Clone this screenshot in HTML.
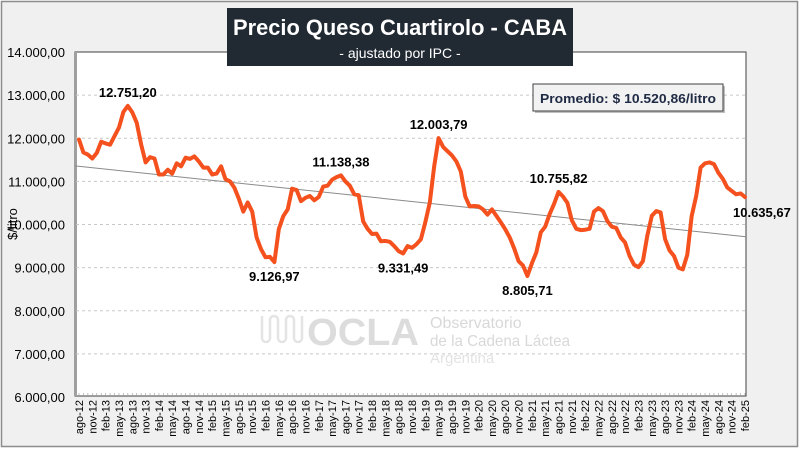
<!DOCTYPE html>
<html><head><meta charset="utf-8"><style>
html,body{margin:0;padding:0;background:#fff}
svg{display:block;font-family:"Liberation Sans",sans-serif}
</style></head><body>
<svg id="chart" width="800" height="449" viewBox="0 0 800 449">
<rect x="0" y="0" width="800" height="449" fill="#ffffff"/>
<rect x="1.5" y="1.5" width="796" height="445" fill="#f0f0f0" stroke="#8c8c8c" stroke-width="1.5"/>
<rect x="75" y="52" width="671" height="344" fill="#ffffff" stroke="#404040" stroke-width="1"/>
<line x1="75.5" y1="52" x2="75.5" y2="396" stroke="#a0a0a0" stroke-width="3"/>
<g id="grid"></g>
<g id="yticks"></g>
<g id="xticks"></g>
<g opacity="0.9">
<path d="M262 316 v22 a4 4 0 0 0 8 0 v-18 a4 4 0 0 1 8 0 v18 a4 4 0 0 0 8 0 v-18 a4 4 0 0 1 8 0 v18 a4 4 0 0 0 8 0 v-22" fill="none" stroke="#e2e2e2" stroke-width="2.5"/>
<text x="307" y="345" font-size="38" font-weight="bold" fill="#d9d9d9" textLength="112" lengthAdjust="spacingAndGlyphs">OCLA</text>
<text x="430" y="328" font-size="16" fill="#d4d4d4">Observatorio</text>
<text x="430" y="346" font-size="16" fill="#d4d4d4" textLength="140" lengthAdjust="spacingAndGlyphs">de la Cadena Láctea</text>
<text x="430" y="363" font-size="15" fill="#e0e0e0">Argentina</text>
</g>
<g id="series"></g>
<g id="labels"></g>
<text x="17" y="224" font-size="13" fill="#000" transform="rotate(-90 17 224)" text-anchor="middle">$/litro</text>
<rect x="227" y="8" width="346" height="58" fill="#212933"/>
<text x="400" y="35" font-size="22" font-weight="bold" fill="#fff" text-anchor="middle" textLength="334" lengthAdjust="spacingAndGlyphs">Precio Queso Cuartirolo - CABA</text>
<text x="400" y="58" font-size="14" fill="#fff" text-anchor="middle">- ajustado por IPC -</text>
<rect x="535" y="86" width="190" height="27" fill="#000" opacity="0.25"/>
<rect x="533" y="84" width="190" height="27" fill="#f2f2f2" stroke="#404040" stroke-width="1"/>
<text x="628" y="103" font-size="13" font-weight="bold" fill="#1f2a44" text-anchor="middle" textLength="176" lengthAdjust="spacingAndGlyphs">Promedio: $ 10.520,86/litro</text>
</svg>
<script>
const yTicks = [6000,7000,8000,9000,10000,11000,12000,13000,14000];
const yTickLabels = ["6.000,00","7.000,00","8.000,00","9.000,00","10.000,00","11.000,00","12.000,00","13.000,00","14.000,00"];
const monthNames = ["ago","nov","feb","may"];
const prices = [11970,11670,11620,11530,11660,11920,11880,11850,12050,12250,12610,12751,12600,12360,11850,11440,11560,11530,11160,11160,11270,11180,11420,11350,11550,11520,11580,11460,11320,11320,11160,11180,11350,11050,11000,10850,10600,10300,10510,10300,9700,9430,9240,9250,9127,9890,10190,10350,10830,10800,10540,10620,10660,10560,10640,10880,10900,11040,11100,11138,11000,10900,10700,10680,10070,9900,9780,9790,9610,9620,9600,9500,9380,9331,9500,9460,9540,9660,10050,10510,11350,12004,11800,11700,11600,11460,11230,10650,10420,10430,10420,10350,10230,10350,10200,10050,9890,9700,9450,9150,9050,8806,9100,9350,9820,9950,10240,10480,10756,10650,10500,10100,9900,9870,9880,9900,10300,10380,10310,10080,9950,9920,9700,9580,9270,9070,9010,9150,9740,10200,10310,10280,9660,9400,9270,9000,8960,9300,10200,10660,11320,11420,11440,11400,11200,11060,10860,10780,10700,10720,10636];
const labelIdx = [11,44,59,73,81,101,108,150];
const labelText = ["12.751,20","9.126,97","11.138,38","9.331,49","12.003,79","8.805,71","10.755,82","10.635,67"];
const labelPos = ["above","below","above","below","above","below","above","right"];

const NS="http://www.w3.org/2000/svg";
const X0=79, X1=745, Y0=397, Y1=52, VMIN=6000, VMAX=14000;
const n=prices.length;
function xs(i){return X0+(X1-X0)*i/(n-1);}
function ys(v){return Y0-(Y0-Y1)*(v-VMIN)/(VMAX-VMIN);}
function mk(tag,attrs,parent){const e=document.createElementNS(NS,tag);for(const k in attrs)e.setAttribute(k,attrs[k]);parent.appendChild(e);return e;}
const grid=document.getElementById('grid'), yt=document.getElementById('yticks'), xt=document.getElementById('xticks');
yTicks.forEach((v,i)=>{
  if(v>VMIN&&v<VMAX){const l=mk('line',{x1:76,x2:746,y1:ys(v),y2:ys(v),stroke:'#c8c8c8','stroke-dasharray':'3,3','stroke-width':1},grid);
  
  }
  const t=mk('text',{x:65,y:ys(v)+5,'font-size':13,'text-anchor':'end',fill:'#000'},yt);
  t.textContent=yTickLabels[i];
  
  
});
for(let i=0;i<n;i++){
  const tk=mk('line',{x1:xs(i),x2:xs(i),y1:396,y2:393,stroke:'#999','stroke-width':0.6},grid);
  
  
  if(i%3===0){
    const yr=12+Math.floor((i+7)/12);
    const lbl=monthNames[(i/3)%4]+'-'+String(yr).padStart(2,'0');
    const t=mk('text',{x:0,y:0,'font-size':11,'text-anchor':'end',fill:'#000',transform:`translate(${xs(i)+4},400) rotate(-90)`},xt);
    t.textContent=lbl;
    
    
  }
}
// trend line (linear regression)
let sx=0,sy=0,sxy=0,sxx=0;prices.forEach((v,i)=>{sx+=i;sy+=v;sxy+=i*v;sxx+=i*i;});
const b=(n*sxy-sx*sy)/(n*sxx-sx*sx), a=(sy-b*sx)/n;
const series=document.getElementById('series');
const tr=mk('line',{x1:75,y1:ys(a),x2:746,y2:ys(a+b*(n-1)),stroke:'#8a8a8a','stroke-width':1},series);


const d=prices.map((v,i)=>(i?'L':'M')+xs(i).toFixed(1)+' '+ys(v).toFixed(1)).join(' ');
const p=mk('path',{d:d,fill:'none',stroke:'#f4511e','stroke-width':4,'stroke-linejoin':'round','stroke-linecap':'round'},series);


const lg=document.getElementById('labels');
labelIdx.forEach((idx,k)=>{
  const x=xs(idx), y=ys(prices[idx]);let tx=x,ty,anchor='middle';
  if(labelPos[k]==='above')ty=y-9;else if(labelPos[k]==='below')ty=y+19;else{tx=x-12;ty=y+20;anchor='start';}
  const t=mk('text',{x:tx,y:ty,'font-size':13,'font-weight':'bold','text-anchor':anchor,fill:'#000'},lg);
  t.textContent=labelText[k];
  
  
});
</script>
</body></html>
